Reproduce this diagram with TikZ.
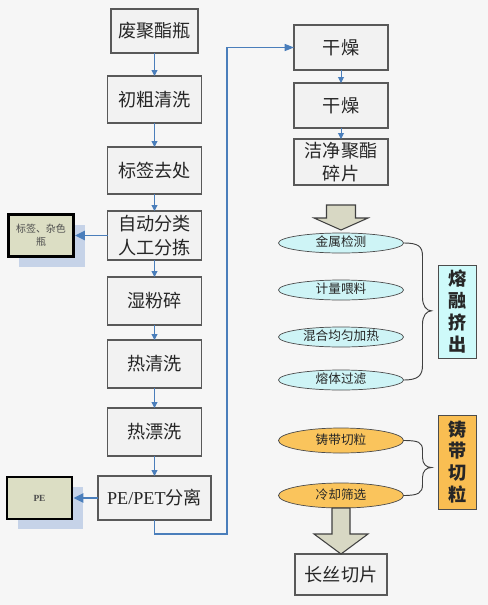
\documentclass[tikz,border=0pt]{standalone}
\usepackage{fontspec}
\setmainfont{Liberation Serif}
\newfontfamily\cjk{Noto Sans CJK SC}
\usetikzlibrary{positioning, shadows, shapes.geometric, arrows.meta, calc}

\definecolor{bgcol}{RGB}{246,246,246}
\definecolor{boxfill}{RGB}{242,242,242}
\definecolor{sidefill}{RGB}{220,222,196}
\definecolor{shadowblue}{RGB}{198,211,232}
\definecolor{flowblue}{RGB}{74,126,187}
\definecolor{cyanfill}{RGB}{206,244,246}
\definecolor{meltfill}{RGB}{206,250,250}
\definecolor{orangefill}{RGB}{250,196,92}
\definecolor{castfill}{RGB}{249,190,82}
\definecolor{fatfill}{RGB}{216,216,196}

\begin{document}
\begin{tikzpicture}[
        node distance=0.6cm,
        every node/.style={align=center, font=\cjk, text=black!85},
        box/.style={draw=black!65, fill=boxfill, line width=0.9pt, outer sep=0pt, minimum width=2.82cm, minimum height=1.41cm, inner sep=1pt, font=\cjk\fontsize{15.5}{20}\selectfont},
        side/.style={draw=black, line width=2.5pt, outer sep=0pt, fill=sidefill, minimum width=1.95cm, minimum height=1.26cm, text=black!70, font=\cjk\fontsize{8.5}{11}\selectfont, drop shadow={shadow xshift=0.33cm, shadow yshift=-0.3cm, fill=shadowblue, opacity=1}},
        ell/.style={ellipse, draw=black!70, fill=cyanfill, line width=0.6pt, outer sep=0pt, minimum width=3.75cm, minimum height=0.6cm, inner sep=0pt, text height=8pt, text depth=1.5pt, font=\cjk\fontsize{10.8}{12}\selectfont},
        oell/.style={ell, fill=orangefill, minimum height=0.75cm},
        vbox/.style={draw=black!70, line width=0.8pt, outer sep=0pt, minimum width=1.14cm, minimum height=2.79cm, inner sep=1pt, font=\cjk\bfseries\fontsize{15.5}{18.7}\selectfont},
        flow/.style={draw=flowblue, line width=0.8pt, -{Triangle[length=5pt, width=5pt]}},
        sidearrow/.style={draw=flowblue, line width=1.3pt, shorten >=1.25pt, -{Triangle[length=8.5pt, width=8pt]}},
        mainline/.style={draw=flowblue, line width=1.1pt, -{Triangle[length=8pt, width=6pt]}},
        fat/.style={draw=black!75, fill=fatfill, line width=0.9pt, line join=miter},
        brace/.style={draw=black!75, line width=0.8pt}
    ]

    % Background
    \fill[bgcol] (0,0) rectangle (14.64,-18.15);
    \useasboundingbox (0,0) rectangle (14.64,-18.15);

    % Left column: washing line
    \node[box, minimum width=2.61cm, minimum height=1.32cm] (bottle) at (4.635,-0.93) {废聚酯瓶};
    \node[box, below=0.69cm of bottle] (rinse) {初粗清洗};
    \node[box, below=0.72cm of rinse] (label) {标签去处};
    \node[box, below=0.51cm of label, minimum height=1.47cm] (sort) {自动分类\\人工分拣};
    \node[box, below=0.51cm of sort, minimum height=1.44cm] (crush) {湿粉碎};
    \node[box, below=0.45cm of crush, minimum height=1.44cm] (hotwash) {热清洗};
    \node[box, below=0.6cm of hotwash, minimum height=1.44cm] (bleach) {热漂洗};
    \node[box, below=0.6cm of bleach, minimum width=3.39cm, minimum height=1.32cm] (pepet) {{\rmfamily PE/PET}分离};

    \draw[flow] (bottle) -- (rinse);
    \draw[flow] (rinse) -- (label);
    \draw[flow] (label) -- (sort);
    \draw[flow] (sort) -- (crush);
    \draw[flow] (crush) -- (hotwash);
    \draw[flow] (hotwash) -- (bleach);
    \draw[flow] (bleach) -- (pepet);

    % Side outputs
    \node[side, left=1.02cm of sort] (waste) {标签、杂色\\瓶};
    \node[side, left=0.78cm of pepet, font=\rmfamily\bfseries\fontsize{8}{10}\selectfont] (pe) {PE};
    \draw[sidearrow] (sort) -- (waste);
    \draw[sidearrow] (pepet) -- (pe);

    % Right column: drying
    \node[box, minimum height=1.35cm] (dry1) at (10.23,-1.425) {干燥};
    \node[box, below=0.39cm of dry1, minimum height=1.35cm] (dry2) {干燥};
    \node[box, below=0.33cm of dry2, minimum height=1.38cm] (clean) {洁净聚酯\\碎片};

    \draw[mainline] (pepet.south) -- ++(0,-0.42) -| ([xshift=-2.01cm]dry1.west) -- (dry1.west);
    \draw[flow] (dry1) -- (dry2);
    \draw[flow] (dry2) -- (clean);

    % Melt extrusion
    \coordinate[below=0.6cm of clean] (a1);
    \draw[fat] (a1) ++(-0.435,0) -- ++(0,-0.39) -- ++(-0.375,0) -- ++(0.81,-0.36) -- ++(0.81,0.36) -- ++(-0.375,0) -- ++(0,0.39) -- cycle;

    \node[ell, below=1.44cm of clean] (m1) {金属检测};
    \node[ell, below=0.81cm of m1] (m2) {计量喂料};
    \node[ell, below=0.81cm of m2] (m3) {混合均匀加热};
    \node[ell, below=0.69cm of m3] (m4) {熔体过滤};

    \node[vbox, fill=meltfill] (melt) at ($(m1.east)!0.5!(m4.east)+(1.62,0)$) {熔\\融\\挤\\出};
    \draw[brace] (m1.east) .. controls +(0.45,0) and +(0,0.3) .. ++(0.57,-0.4)
        -- ++(0,-1.235) .. controls +(0,-0.25) and +(-0.15,0) .. ++(0.27,-0.4)
        .. controls +(-0.15,0) and +(0,0.25) .. ++(-0.27,-0.4)
        -- ++(0,-1.235) .. controls +(0,-0.3) and +(0.45,0) .. (m4.east);

    % Strand pelletizing
    \node[oell, below=1.14cm of m4] (o1) {铸带切粒};
    \node[oell, below=0.9cm of o1] (o2) {冷却筛选};

    \node[vbox, fill=castfill, minimum height=2.82cm] (cast) at ($(o1.east)!0.5!(o2.east)+(1.62,0.18)$) {铸\\带\\切\\粒};
    \draw[brace] (o1.east) .. controls +(0.45,0) and +(0,0.25) .. ++(0.57,-0.3)
        -- ++(0,-0.21) .. controls +(0,-0.2) and +(-0.15,0) .. ++(0.27,-0.3)
        .. controls +(-0.15,0) and +(0,0.2) .. ++(-0.27,-0.3)
        -- ++(0,-0.21) .. controls +(0,-0.25) and +(0.45,0) .. (o2.east);

    % Final product
    \node[box, below=1.38cm of o2, minimum width=2.76cm, minimum height=1.23cm] (slice) {长丝切片};
    \draw[fat] (o2.south) ++(-0.27,0) -- ++(0,-0.78) -- ++(-0.54,0) -- ++(0.81,-0.6) -- ++(0.81,0.6) -- ++(-0.54,0) -- ++(0,0.78) -- cycle;

    \end{tikzpicture}
\end{document}
